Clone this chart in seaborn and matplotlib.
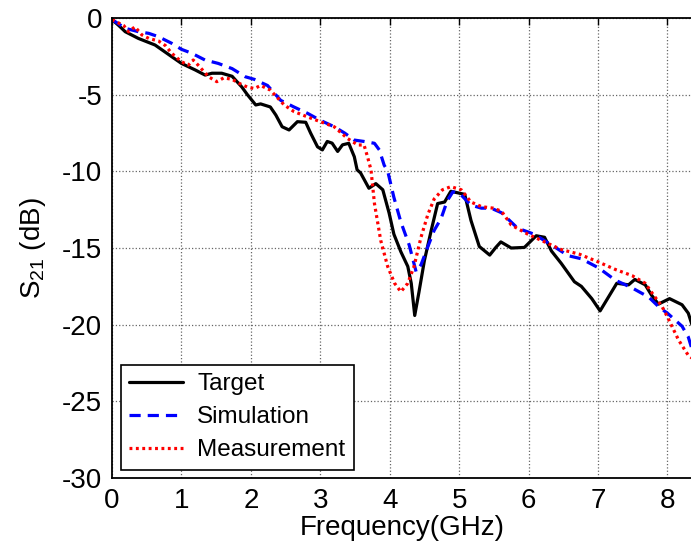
import numpy as np
import pandas as pd
import matplotlib
matplotlib.use("Agg")
import matplotlib.pyplot as plt
import seaborn as sns

# Target response
target_f = [0, 0.1, 0.19, 0.38, 0.62, 0.86, 1.0, 1.2, 1.34, 1.44, 1.58, 1.73, 1.87, 1.95,
            2.07, 2.14, 2.21, 2.28, 2.36, 2.45, 2.55, 2.67, 2.79, 2.86, 2.96, 3.03, 3.10,
            3.17, 3.25, 3.32, 3.41, 3.49, 3.53, 3.58, 3.70, 3.80, 3.90, 3.99, 4.06, 4.16,
            4.26, 4.31, 4.36, 4.42, 4.50, 4.60, 4.69, 4.79, 4.88, 4.98, 5.08, 5.17, 5.29,
            5.44, 5.53, 5.60, 5.75, 5.94, 6.11, 6.23, 6.33, 6.47, 6.66, 6.76, 6.91, 7.03,
            7.15, 7.27, 7.44, 7.53, 7.68, 7.77, 7.87, 8.03, 8.21, 8.30, 8.36]
target_db = [-0.1, -0.5, -0.89, -1.33, -1.76, -2.52, -2.96, -3.39, -3.72, -3.6, -3.6, -3.8,
             -4.5, -5.0, -5.67, -5.6, -5.7, -5.8, -6.33, -7.09, -7.3, -6.76, -6.8, -7.5,
             -8.4, -8.6, -8.05, -8.16, -8.7, -8.27, -8.17, -9.05, -9.9, -10.1, -11.1, -10.8,
             -11.2, -12.7, -14.1, -15.24, -16.2, -17.3, -19.4, -17.9, -15.8, -13.8, -12.1,
             -12.0, -11.3, -11.4, -11.5, -13.2, -14.9, -15.46, -14.95, -14.6, -15.0, -14.96,
             -14.2, -14.3, -15.2, -16.0, -17.2, -17.5, -18.3, -19.1, -18.2, -17.3, -17.4,
             -17.05, -17.4, -18.07, -18.66, -18.3, -18.7, -19.25, -20.1]

# Simulation
sim_f = [0, 0.19, 0.38, 0.53, 0.67, 0.86, 1.0, 1.15, 1.34, 1.53, 1.73, 1.92, 2.05, 2.24,
         2.43, 2.62, 2.81, 3.0, 3.2, 3.35, 3.49, 3.63, 3.78, 3.85, 3.92, 3.97, 4.06, 4.16,
         4.28, 4.38, 4.45, 4.55, 4.64, 4.74, 4.83, 4.91, 5.02, 5.17, 5.32, 5.46, 5.61,
         5.84, 6.08, 6.33, 6.57, 6.76, 7.01, 7.25, 7.49, 7.73, 7.89, 8.0, 8.21, 8.30, 8.36]
sim_db = [-0.1, -0.67, -0.89, -1.0, -1.22, -1.65, -2.04, -2.3, -2.74, -2.96, -3.3, -3.83,
          -4.0, -4.4, -5.37, -5.8, -6.2, -6.67, -7.09, -7.5, -7.96, -8.05, -8.17, -8.6,
          -9.6, -9.97, -11.7, -13.3, -14.8, -16.55, -16.1, -14.9, -13.85, -13.07, -11.9,
          -11.33, -11.5, -12.2, -12.4, -12.4, -12.7, -13.7, -14.1, -14.8, -15.5, -15.7,
          -16.3, -17.1, -17.6, -18.2, -18.9, -19.25, -20.1, -20.8, -21.7]

# Measurement
meas_f = [0, 0.17, 0.24, 0.33, 0.43, 0.53, 0.67, 0.77, 0.86, 1.0, 1.1, 1.17, 1.24, 1.39,
          1.51, 1.61, 1.73, 1.87, 1.95, 2.05, 2.14, 2.28, 2.48, 2.62, 2.81, 3.0, 3.2, 3.39,
          3.54, 3.63, 3.68, 3.73, 3.78, 3.87, 3.97, 4.07, 4.16, 4.26, 4.35, 4.45, 4.55,
          4.64, 4.76, 4.88, 5.03, 5.17, 5.32, 5.49, 5.61, 5.75, 5.99, 6.23, 6.47, 6.73,
          7.0, 7.25, 7.49, 7.68, 7.8, 7.92, 8.0, 8.16, 8.3, 8.36]
meas_db = [-0.1, -0.5, -0.9, -0.57, -1.1, -1.33, -1.5, -1.8, -2.3, -2.85, -3.07, -2.74,
           -3.07, -3.83, -4.15, -3.9, -4.0, -4.35, -4.5, -4.6, -4.4, -4.7, -5.67, -6.1,
           -6.44, -6.76, -7.09, -7.85, -8.28, -8.28, -9.05, -9.9, -12.1, -14.5, -16.2,
           -17.3, -17.85, -17.3, -16.2, -14.3, -12.8, -11.8, -11.2, -11.0, -11.2, -12.0,
           -12.3, -12.4, -12.6, -13.5, -14.1, -14.6, -15.1, -15.4, -15.9, -16.4, -16.8,
           -17.3, -18.07, -18.8, -19.5, -21.0, -22.0, -22.2]

x_ticks = [0, 1, 2, 3, 4, 5, 6, 7, 8]
y_ticks = [0, -5, -10, -15, -20, -25, -30]

sns.set_style("white")
plt.rcParams["font.family"] = ["Liberation Sans", "DejaVu Sans"]
plt.rcParams["mathtext.default"] = "regular"
plt.rcParams["axes.unicode_minus"] = False
plt.rcParams["text.color"] = "black"
plt.rcParams["axes.labelcolor"] = "black"

fig = plt.figure(figsize=(6.91, 5.48), dpi=100)
ax = fig.add_axes([0.1621, 0.1277, 0.8400, 0.8394])

sns.lineplot(x=target_f, y=target_db, ax=ax, color="black", lw=2.3,
             linestyle="-", label="Target", estimator=None, sort=False)
sns.lineplot(x=sim_f, y=sim_db, ax=ax, color="#0000ff", lw=2.3,
             linestyle=(0, (3.5, 2.2)), label="Simulation", estimator=None, sort=False)
sns.lineplot(x=meas_f, y=meas_db, ax=ax, color="#ff0000", lw=2.3,
             linestyle=(0, (0.9, 1.1)), label="Measurement", estimator=None, sort=False)

ax.set_xlim(0, 8.36)
ax.set_ylim(-30, 0)
ax.set_xticks(x_ticks)
ax.set_yticks(y_ticks)
ax.grid(True, color="#666666", linestyle=":", linewidth=0.9)

ax.tick_params(direction="in", length=5, width=1, top=True, right=False,
               labelsize=20, pad=7, colors="black")
for s in ["left", "bottom", "top"]:
    ax.spines[s].set_color("black")
    ax.spines[s].set_linewidth(1.3)
ax.spines["right"].set_visible(False)

ax.set_xlabel("Frequency(GHz)", fontsize=20, labelpad=1)
ax.set_ylabel("S$_{21}$ (dB)", fontsize=20, labelpad=10)

leg = ax.legend(loc="lower left", bbox_to_anchor=(0.015, 0.018), fontsize=17.5,
                frameon=True, fancybox=False, framealpha=1, edgecolor="black",
                handlelength=2.2, borderpad=0.35, labelspacing=0.45, handletextpad=0.6,
                borderaxespad=0)
leg.get_frame().set_linewidth(1.2)

fig.savefig("out.png", dpi=100)
